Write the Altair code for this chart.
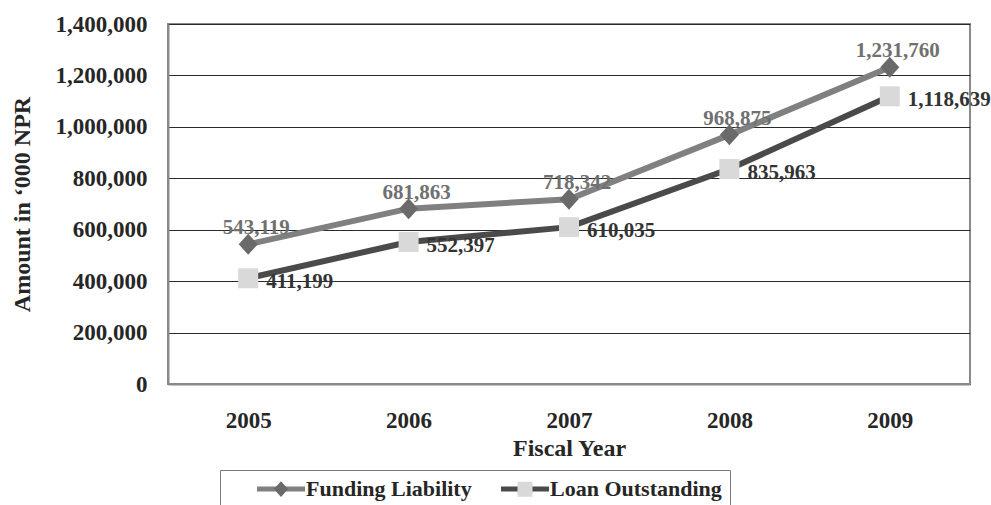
import altair as alt
import pandas as pd

# ---- data ----
years = ["2005", "2006", "2007", "2008", "2009"]
funding = [543119, 681863, 718342, 968875, 1231760]
loan = [411199, 552397, 610035, 835963, 1118639]
series_names = ["Funding Liability", "Loan Outstanding"]
y_ticks = [0, 200000, 400000, 600000, 800000, 1000000, 1200000, 1400000]

# ---- styles ----
FONT = "Liberation Serif"
line_colors = ["#808080", "#4a4a4a"]
marker_colors = ["#6a6a6a", "#d9d9d9"]
label_colors = ["#707070", "#333333"]
diamond = "M0,-1.05L0.95,0L0,1.05L-0.95,0Z"
square = "M-1,-1H1V1H-1Z"
legend_line = "M2.4,0H8.8"

df = pd.DataFrame({
    "year": years * 2,
    "value": funding + loan,
    "series": [s for s in series_names for _ in years],
})

x = alt.X(
    "year:O",
    title="Fiscal Year",
    scale=alt.Scale(type="point", padding=0.5),
    axis=alt.Axis(labelAngle=0, ticks=False, tickSize=0, labelPadding=25,
                  domain=True, domainColor="#8a8a8a", domainWidth=2,
                  titlePadding=4, grid=False),
)
y = alt.Y(
    "value:Q",
    title="Amount in \u2018000 NPR",
    scale=alt.Scale(domain=[0, 1400000], nice=False),
    axis=alt.Axis(values=y_ticks, format=",.0f", ticks=False, tickSize=0,
                  labelPadding=21, domain=True, domainColor="#8a8a8a",
                  domainWidth=2, grid=True, gridColor="#2a2a2a",
                  gridWidth=1, titlePadding=21),
)

# trailing non-breaking spaces on the last label widen the legend box like the original
label_expr = ("datum.label == '%s' ? datum.label + '\u00a0\u00a0\u00a0\u00a0' : datum.label"
              % series_names[1])

common_legend = dict(
    orient="none", legendX=52, legendY=446, direction="horizontal",
    columns=2, padding=8, symbolSize=225, columnPadding=-10,
    labelFont=FONT, labelFontSize=22, labelFontWeight="bold",
    labelColor="#262626", title=None, labelLimit=400, labelExpr=label_expr,
)

lines = alt.Chart(df).mark_line(strokeWidth=6).encode(
    x=x, y=y,
    stroke=alt.Stroke(
        "series:N",
        scale=alt.Scale(range=line_colors),
        legend=alt.Legend(symbolType=legend_line, symbolStrokeWidth=5,
                          symbolOffset=0, labelOffset=56,
                          fillColor="white", strokeColor="#7a7a7a",
                          **common_legend),
    ),
)

legend_b = alt.Legend(symbolStrokeWidth=5, symbolOffset=42,
                      labelOffset=14, labelOpacity=0, **common_legend)

points = alt.Chart(df).mark_point(filled=True, size=400, opacity=1).encode(
    x=x, y=y,
    fill=alt.Fill("series:N",
                  scale=alt.Scale(domain=series_names, range=marker_colors),
                  legend=legend_b),
    shape=alt.Shape("series:N",
                    scale=alt.Scale(domain=series_names, range=[diamond, square]),
                    legend=legend_b),
)

fund_labels = alt.Chart(df).transform_filter(
    alt.datum.series == series_names[0]
).mark_text(
    dx=8, dy=-16, align="center", baseline="middle", font=FONT,
    fontSize=21, fontWeight="bold", color=label_colors[0],
).encode(x=x, y=y, text=alt.Text("value:Q", format=","))

loan_labels = alt.Chart(df).transform_filter(
    alt.datum.series == series_names[1]
).mark_text(
    dx=18, dy=4, align="left", baseline="middle", font=FONT,
    fontSize=21, fontWeight="bold", color=label_colors[1],
).encode(x=x, y=y, text=alt.Text("value:Q", format=","))

chart = alt.layer(lines, points, fund_labels, loan_labels).resolve_legend(
    fill="independent", shape="independent"
).properties(
    width=802, height=360, autosize="none",
    padding={"left": 168, "top": 24, "right": 21, "bottom": 121},
    background="white",
).configure_view(
    stroke="#8a8a8a", strokeWidth=2,
).configure_axis(
    labelFont=FONT, labelFontSize=23, labelFontWeight="bold",
    labelColor="#262626", titleFont=FONT, titleFontSize=24,
    titleFontWeight="bold", titleColor="#262626",
)

chart.save("out.html", embed_options={"renderer": "svg", "actions": False})
